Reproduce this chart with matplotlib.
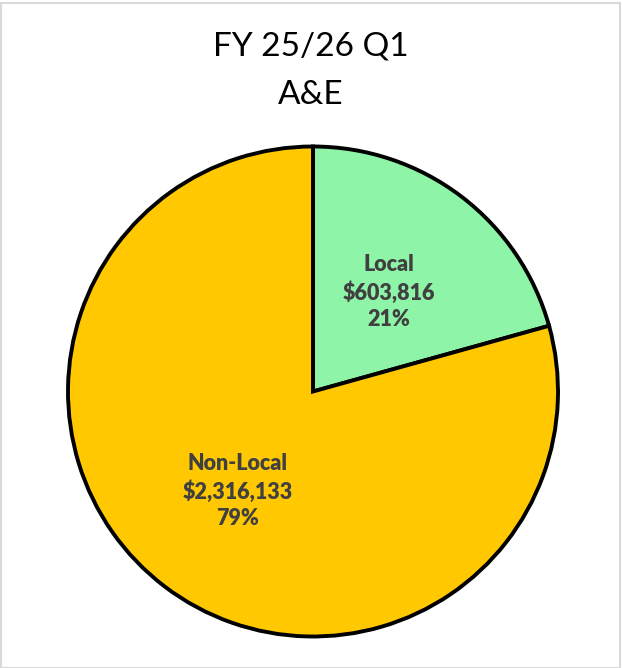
import matplotlib
matplotlib.use("Agg")
import matplotlib.pyplot as plt
from matplotlib.patches import Rectangle

categories = ["Local", "Non-Local"]
values = [603816, 2316133]
colors = ["#8EF5A8", "#FFC800"]
title_lines = ["FY 25/26 Q1", "A&E"]

W, H = 622, 668
fig = plt.figure(figsize=(W / 100, H / 100), dpi=100)

# pie circle: x 68..558, y 146..637 (pixels from top)
cx, cy, r = 313, 391.5, 245
ax = fig.add_axes([(cx - r) / W, (H - cy - r) / H, 2 * r / W, 2 * r / H])

total = sum(values)

def fmt(pct):
    for c, v in zip(categories, values):
        if abs(v / total * 100 - pct) < 0.01:
            return f"{c}\n${v:,.0f}\n{round(v / total * 100):.0f}%"
    return ""

wedges, texts, autotexts = ax.pie(
    values, colors=colors, startangle=90, counterclock=False,
    autopct=fmt, pctdistance=0.51,
    wedgeprops=dict(edgecolor="black", linewidth=2.8),
    textprops=dict(fontfamily="Lato", fontweight="heavy", fontsize=15.5,
                   color="#404040", linespacing=1.3),
)
for w in wedges:
    w.set_clip_on(False)
ax.set_xlim(-1, 1)
ax.set_ylim(-1, 1)
ax.set_aspect("equal")
ax.axis("off")

fig.text(311 / W, 1 - 46 / H, title_lines[0], ha="center", va="center",
         fontsize=24, fontfamily="Lato", color="black")
fig.text(311 / W, 1 - 95 / H, title_lines[1], ha="center", va="center",
         fontsize=24, fontfamily="Lato", color="black")

fig.patches.append(Rectangle((0.5 / W, 0.5 / H), 1 - 3 / W, 1 - 3 / H,
                             transform=fig.transFigure, fill=False,
                             edgecolor="#D9D9D9", linewidth=1.5))

fig.savefig("out.png", dpi=100, facecolor="white")
